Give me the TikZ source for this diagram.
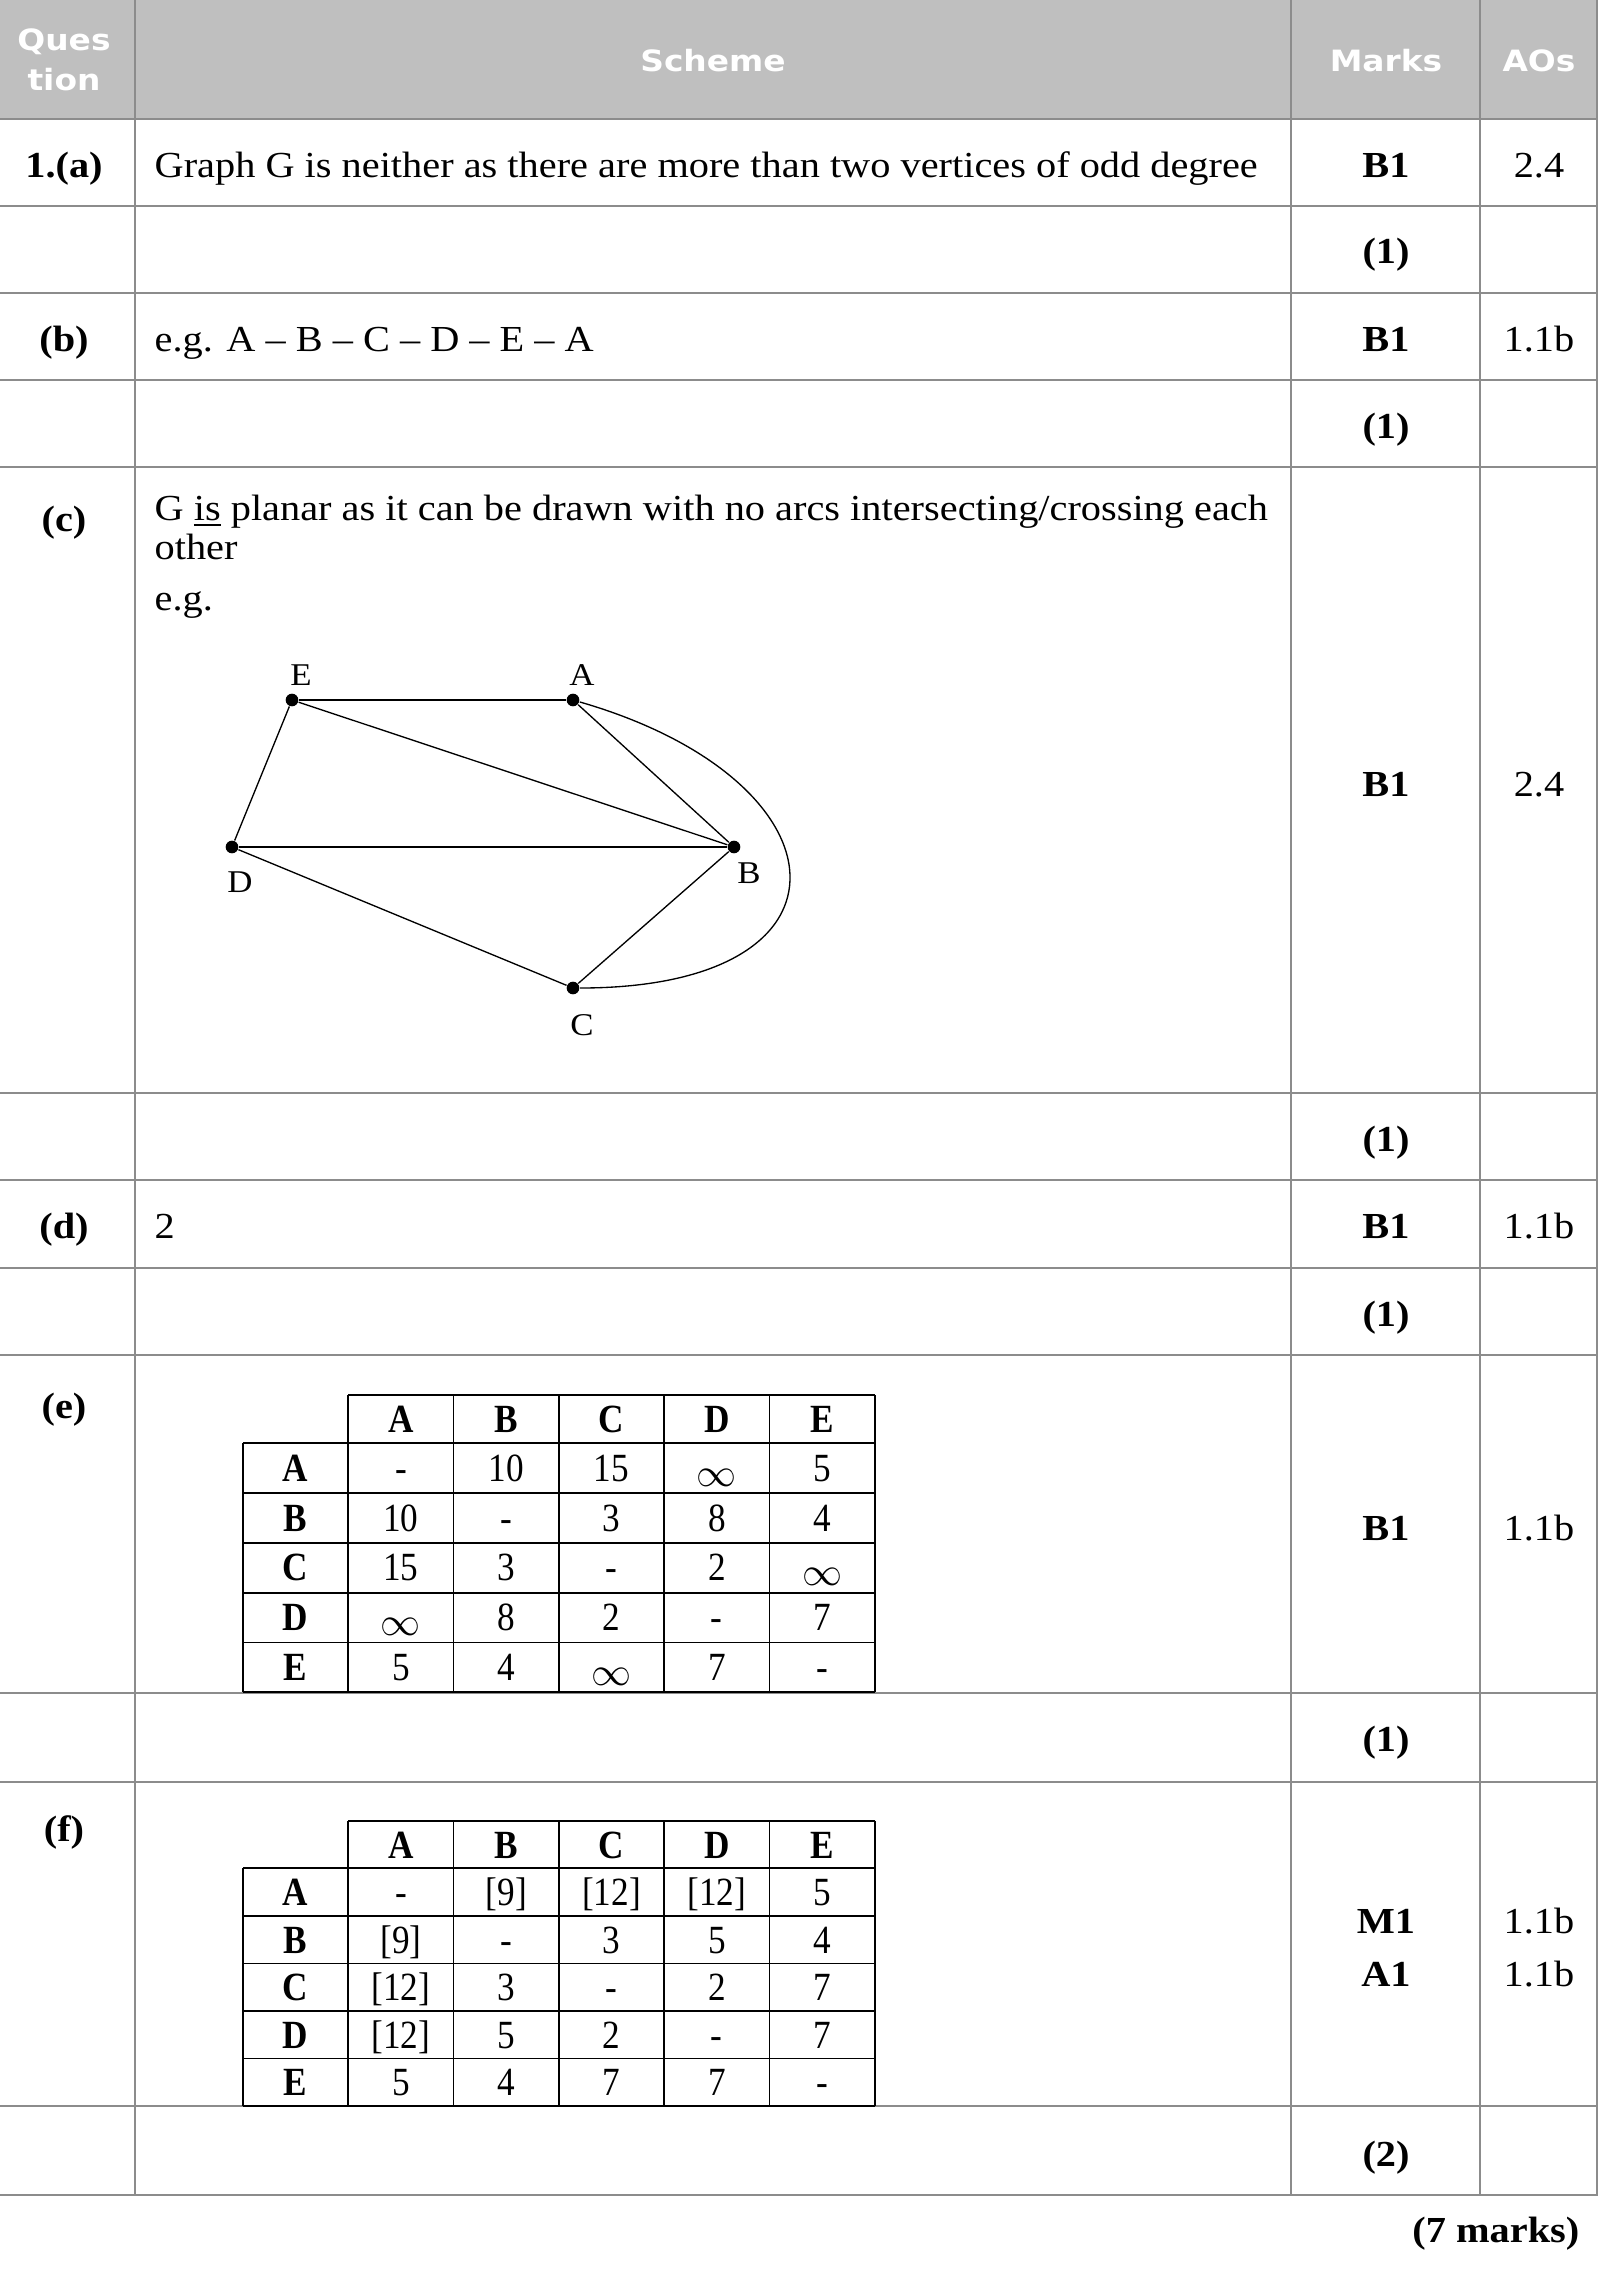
\documentclass[tikz,border=0pt]{standalone}
\usepackage{fontspec}
\setmainfont{Liberation Serif}[FakeStretch=1.1]
\newfontfamily\tabfont{Liberation Serif}[FakeStretch=0.88]
\newfontfamily\headfont{DejaVu Sans}[FakeStretch=1.12]
\usepackage{tikz}
\usetikzlibrary{positioning}
\definecolor{headgray}{HTML}{BFBFBF}
\definecolor{rulegray}{HTML}{8C8C8C}
\newcommand{\infsym}{\raisebox{-1.5pt}{$\infty$}}

\tikzset{
  rowrule/.style={draw=rulegray, line width=0.6pt},
  headtxt/.style={text=white, font=\headfont\bfseries\fontsize{8.8}{10}\selectfont, anchor=base, inner sep=0pt},
  qlab/.style={font=\bfseries\fontsize{11}{13}\selectfont, anchor=base, inner sep=0pt},
  schemetxt/.style={font=\fontsize{11}{13}\selectfont, anchor=base west, inner sep=0pt},
  marktxt/.style={font=\bfseries\fontsize{11}{13}\selectfont, anchor=base, inner sep=0pt},
  aotxt/.style={font=\fontsize{11}{13}\selectfont, anchor=base, inner sep=0pt},
  vertex/.style={circle, fill=black, inner sep=0pt, minimum size=3.8pt},
  vlab/.style={font=\fontsize{9.5}{11}\selectfont, anchor=base, inner sep=0pt},
  edge/.style={draw=black, line width=0.4pt},
  cell/.style={font=\tabfont\fontsize{12}{14}\selectfont, anchor=base, inner sep=0pt},
  hcell/.style={font=\tabfont\bfseries\fontsize{12}{14}\selectfont, anchor=base, inner sep=0pt},
  tabline/.style={draw=black, line width=0.5pt}
}

\begin{document}
\begin{tikzpicture}[x=0.3pt, y=-0.3pt]
    \useasboundingbox (0,0) rectangle (1598,2273);

    % Header band
    \fill[headgray] (0,0) rectangle (1598,119);
    \node[headtxt] (hq1) at (64,50) {Ques};
    \node[headtxt] (hq2) at (64,90) {tion};
    \node[headtxt] (hscheme) at (713,71) {Scheme};
    \node[headtxt] (hmarks) at (1386,71) {Marks};
    \node[headtxt] (haos) at (1539,71) {AOs};

    % Grid of the mark scheme
    \foreach \y in {119,206,293,380,467,1093,1180,1268,1355,1693,1782,2106,2195}
        \draw[rowrule] (0,\y) -- (1598,\y);
    \foreach \x in {135,1291,1480,1597}
        \draw[rowrule] (\x,0) -- (\x,2195);

    % Question labels
    \node[qlab] (qa) at (64,177) {1.(a)};
    \node[qlab] (qb) at (64,351) {(b)};
    \node[qlab] (qc) at (64,531) {(c)};
    \node[qlab] (qd) at (64,1238) {(d)};
    \node[qlab] (qe) at (64,1418) {(e)};
    \node[qlab] (qf) at (64,1841) {(f)};

    % Scheme text
    \node[schemetxt] (sa) at (154,177) {Graph G is neither as there are more than two vertices of odd degree};
    \node[schemetxt] (sb) at (154,351) {e.g. A – B – C – D – E – A};
    \node[schemetxt] (sc1) at (154,520) {G \underline{is} planar as it can be drawn with no arcs intersecting/crossing each};
    \node[schemetxt] (sc2) at (154,559) {other};
    \node[schemetxt] (sc3) at (154,610) {e.g.};
    \node[schemetxt] (sd) at (154,1238) {2};

    % Marks column
    \node[marktxt] (ma) at (1386,177) {B1};
    \node[marktxt] (ta) at (1386,263) {(1)};
    \node[marktxt] (mb) at (1386,351) {B1};
    \node[marktxt] (tb) at (1386,438) {(1)};
    \node[marktxt] (mc) at (1386,796) {B1};
    \node[marktxt] (tc) at (1386,1151) {(1)};
    \node[marktxt] (md) at (1386,1238) {B1};
    \node[marktxt] (td) at (1386,1326) {(1)};
    \node[marktxt] (me) at (1386,1540) {B1};
    \node[marktxt] (te) at (1386,1751) {(1)};
    \node[marktxt] (mf1) at (1386,1933) {M1};
    \node[marktxt] (mf2) at (1386,1986) {A1};
    \node[marktxt] (tf) at (1386,2166) {(2)};

    % AOs column
    \node[aotxt] (aa) at (1539,177) {2.4};
    \node[aotxt] (ab) at (1539,351) {1.1b};
    \node[aotxt] (ac) at (1539,796) {2.4};
    \node[aotxt] (ad) at (1539,1238) {1.1b};
    \node[aotxt] (ae) at (1539,1540) {1.1b};
    \node[aotxt] (af1) at (1539,1933) {1.1b};
    \node[aotxt] (af2) at (1539,1986) {1.1b};

    \node[marktxt, anchor=base east] (total) at (1580,2242) {(7 marks)};

    % Planar drawing of G
    \node[vertex] (E) at (292,700) {};
    \node[vertex] (A) at (573,700) {};
    \node[vertex] (B) at (734,847) {};
    \node[vertex] (D) at (232,847) {};
    \node[vertex] (C) at (573,988) {};
    \node[vlab] (labE) at (301,685) {E};
    \node[vlab] (labA) at (582,685) {A};
    \node[vlab] (labB) at (749,883) {B};
    \node[vlab] (labD) at (240,892) {D};
    \node[vlab] (labC) at (582,1035) {C};

    \draw[edge] (E) -- (A);
    \draw[edge] (E) -- (B);
    \draw[edge] (E) -- (D);
    \draw[edge] (A) -- (B);
    \draw[edge] (D) -- (B);
    \draw[edge] (D) -- (C);
    \draw[edge] (C) -- (B);
    \draw[edge] (A) .. controls (850,780) and (870,988) .. (C);

    % Distance table (e)
    \draw[tabline] (348.4,1395) -- (874.8,1395);
    \foreach \r in {0,...,5}
        \draw[tabline] (243,{1443.3+49.8*\r}) -- (874.8,{1443.3+49.8*\r});
    \draw[tabline] (243,1443.3) -- (243,1692.3);
    \foreach \c in {1,...,6}
        \draw[tabline] ({243+105.3*\c},1395) -- ({243+105.3*\c},1692.3);
    \foreach \h [count=\c] in {A,B,C,D,E}
        \node[hcell] (eh\c) at ({243+105.3*\c+52.65},1432) {\h};
    \foreach \lab/\vals [count=\r] in {A/{-,10,15,\infsym,5}, B/{10,-,3,8,4}, C/{15,3,-,2,\infsym}, D/{\infsym,8,2,-,7}, E/{5,4,\infsym,7,-}} {
        \node[hcell] (er\r) at (295.7,{1443.3+49.8*(\r-1)+38}) {\lab};
        \foreach \v [count=\c] in \vals
            \node[cell] (e\r\c) at ({243+105.3*\c+52.65},{1443.3+49.8*(\r-1)+38}) {\v};
    }

    % Final table (f)
    \draw[tabline] (348.4,1820.7) -- (874.8,1820.7);
    \foreach \r in {0,...,5}
        \draw[tabline] (243,{1868.3+47.54*\r}) -- (874.8,{1868.3+47.54*\r});
    \draw[tabline] (243,1868.3) -- (243,2106);
    \foreach \c in {1,...,6}
        \draw[tabline] ({243+105.3*\c},1820.7) -- ({243+105.3*\c},2106);
    \foreach \h [count=\c] in {A,B,C,D,E}
        \node[hcell] (fh\c) at ({243+105.3*\c+52.65},1858) {\h};
    \foreach \lab/\vals [count=\r] in {A/{-,{[9]},{[12]},{[12]},5}, B/{{[9]},-,3,5,4}, C/{{[12]},3,-,2,7}, D/{{[12]},5,2,-,7}, E/{5,4,7,7,-}} {
        \node[hcell] (fr\r) at (295.7,{1868.3+47.54*(\r-1)+37.5}) {\lab};
        \foreach \v [count=\c] in \vals
            \node[cell] (f\r\c) at ({243+105.3*\c+52.65},{1868.3+47.54*(\r-1)+37.5}) {\v};
    }
\end{tikzpicture}
\end{document}
